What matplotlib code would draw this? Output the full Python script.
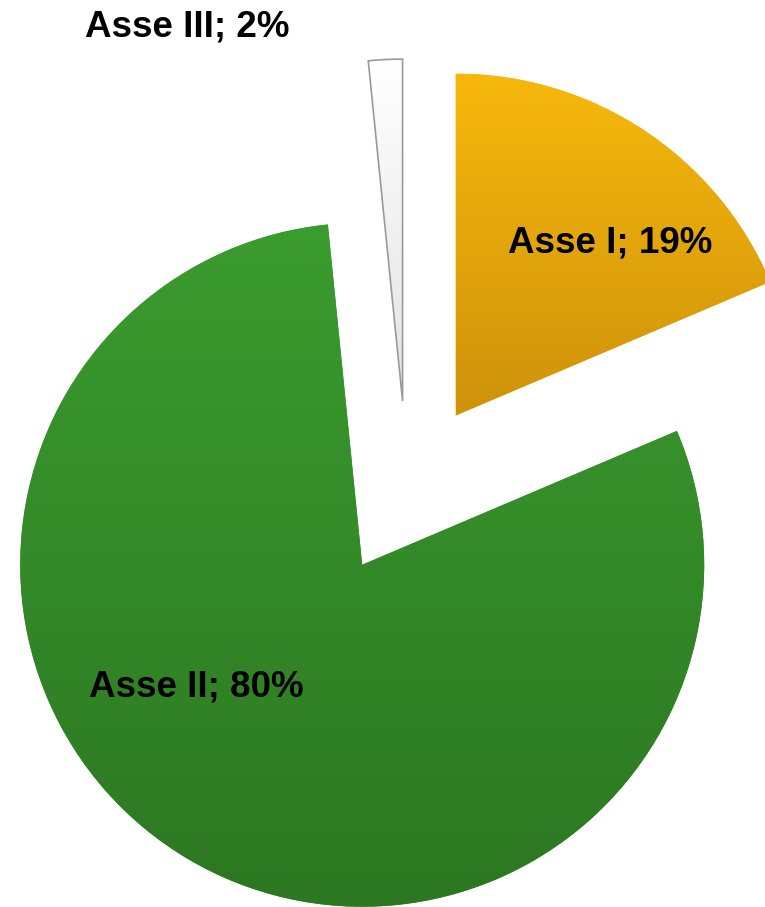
import matplotlib.pyplot as plt
import numpy as np
from matplotlib.colors import LinearSegmentedColormap

labels = ['Asse I', 'Asse II', 'Asse III']
values = [18.6, 79.8, 1.6]
shown_pct = [19, 80, 2]
top_colors = ['#F7B80C', '#3B9C2F', '#FFFFFF']
bottom_colors = ['#CE920B', '#2C7721', '#E2E2E2']

W, H = 765, 907
cx, cy = 407, H - 489
radius = 342
explode = 88

fig = plt.figure(figsize=(W / 100, H / 100), dpi=100)
ax = fig.add_axes([0, 0, 1, 1])

wedges, _ = ax.pie(values, explode=[explode] * len(values), startangle=90,
                   counterclock=False, radius=radius, center=(cx, cy),
                   colors=top_colors, wedgeprops=dict(linewidth=0))

# vertical gradient inside each slice, clipped to the wedge
for w, c_top, c_bot in zip(wedges, top_colors, bottom_colors):
    verts = w.get_path().vertices
    x0, y0 = verts.min(axis=0)
    x1, y1 = verts.max(axis=0)
    cmap = LinearSegmentedColormap.from_list('g', [c_bot, c_top])
    grad = np.linspace(0, 1, 256).reshape(-1, 1)
    im = ax.imshow(grad, extent=[x0, x1, y0, y1], origin='lower', cmap=cmap,
                   aspect='auto', zorder=w.get_zorder() + 0.1)
    im.set_clip_path(w)

# thin grey outline for the white slice
wedges[2].set_edgecolor('#9A9A9A')
wedges[2].set_linewidth(1.2)
wedges[2].set_zorder(5)
wedges[2].set_facecolor('none')

label_pos = [(610, H - 252), (196, H - 697), (187, H - 37)]
for lab, pct, (tx, ty) in zip(labels, shown_pct, label_pos):
    ax.text(tx, ty, f'{lab}; {pct}%', ha='center', va='baseline',
            fontsize=26.5, fontweight='bold', family='Liberation Sans',
            color='black', zorder=10)

ax.set_xlim(0, W)
ax.set_ylim(0, H)
ax.set_aspect('equal')
ax.axis('off')

fig.savefig('out.png', dpi=100, facecolor='white')
